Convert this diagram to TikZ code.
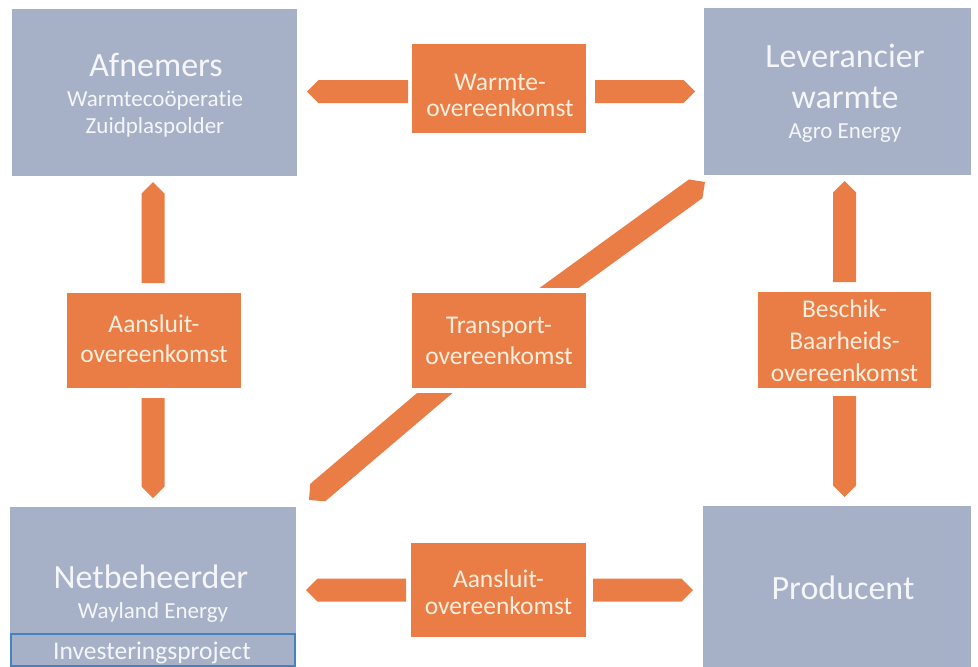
\documentclass[tikz,border=0pt]{standalone}
\usepackage{fontspec}
\setmainfont{Carlito}[Ligatures={NoCommon,NoContextual}]
\usetikzlibrary{calc,backgrounds}
\definecolor{boxgrey}{RGB}{166,176,198}
\definecolor{orng}{RGB}{233,125,69}
\definecolor{txtw}{RGB}{245,246,250}
\definecolor{txto}{RGB}{253,238,222}
\definecolor{blueb}{RGB}{70,130,190}
% single-headed band arrow from #1 to #2 (tip at #2)
\newcommand\bandarrow[2]{%
  \coordinate (bE) at ($(#2)!11.5pt!(#1)$);
  \fill[band] ($(#1)!11.5pt!90:(#2)$) -- ($(bE)!11.5pt!90:(#2)$) -- (#2)
    -- ($(bE)!11.5pt!-90:(#2)$) -- ($(#1)!11.5pt!-90:(#2)$) -- cycle;}
\begin{document}
\begin{tikzpicture}[x=1pt,y=-1pt,
  party/.style={fill=boxgrey, draw=none, inner sep=0pt, outer sep=0pt},
  deal/.style={fill=orng, draw=none, inner sep=0pt, outer sep=0pt},
  band/.style={fill=orng},
  ttl/.style={anchor=base, text=txtw, inner sep=0pt, font=\fontsize{34}{34}\selectfont},
  sub/.style={anchor=base, text=txtw, inner sep=0pt, font=\fontsize{23}{23}\selectfont},
  dtxt/.style={anchor=base, text=txto, inner sep=0pt, font=\fontsize{25.5}{25.5}\selectfont}
]
\useasboundingbox (0,0) rectangle (978,667);

% parties
\node[party, minimum width=285, minimum height=167] (afn) at (154.5,92.5) {};
\node[party, minimum width=267, minimum height=167] (lev) at (837.5,91.5) {};
\node[party, minimum width=286, minimum height=160] (net) at (153,587) {};
\node[party, minimum width=268, minimum height=161] (prod) at (837,586.5) {};
\node[party, draw=blueb, line width=2pt, minimum width=284, minimum height=32] (inv) at (153,650) {};

% agreements
\node[deal, minimum width=174, minimum height=89] (W) at (499,88.5) {};
\node[deal, minimum width=174, minimum height=95] (AL) at (154,340.5) {};
\node[deal, minimum width=174, minimum height=95] (T) at (499,340.5) {};
\node[deal, minimum width=173, minimum height=96] (B) at (844.5,340) {};
\node[deal, minimum width=175, minimum height=94] (AB) at (498.5,590) {};

% texts
\node[ttl] (afn1) at (156,76) {Afnemers};
\node[sub] (afn2) at (155,106) {Warmtecoöperatie};
\node[sub] (afn3) at (155,133) {Zuidplaspolder};
\node[ttl] (lev1) at (845,67) {Leverancier};
\node[ttl] (lev2) at (845,108) {warmte};
\node[sub] (lev3) at (845,138) {Agro Energy};
\node[ttl] (net1) at (151,588) {Netbeheerder};
\node[sub] (net2) at (153,618) {Wayland Energy};
\node[anchor=base, text=txtw, inner sep=0pt, font=\fontsize{25.5}{25.5}\selectfont] (inv1) at (152,659) {Investeringsproject};
\node[ttl] (prod1) at (843,599) {Producent};

\node[dtxt] (W1) at (500,90) {Warmte-};
\node[dtxt] (W2) at (500,116) {overeenkomst};
\node[dtxt] (AL1) at (154,332) {Aansluit-};
\node[dtxt] (AL2) at (154,362) {overeenkomst};
\node[dtxt] (T1) at (499,333) {Transport-};
\node[dtxt] (T2) at (499,364) {overeenkomst};
\node[dtxt] (B1) at (844.5,317) {Beschik-};
\node[dtxt] (B2) at (844.5,349) {Baarheids-};
\node[dtxt] (B3) at (844.5,381) {overeenkomst};
\node[dtxt] (AB1) at (498.5,587) {Aansluit-};
\node[dtxt] (AB2) at (498.5,614) {overeenkomst};

% connector end points (relative to the nodes)
\coordinate (c1s) at ($(W.west)+(-4,3)$);
\coordinate (c1e) at ($(afn.east |- c1s)+(10,0)$);
\coordinate (c2s) at ($(W.east)+(9,3)$);
\coordinate (c2e) at ($(lev.west |- c2s)+(-9,0)$);
\coordinate (c3s) at ($(AL.north)+(-1,-10)$);
\coordinate (c3e) at ($(afn.south -| c3s)+(0,6)$);
\coordinate (c4s) at ($(AL.south)+(-1,10)$);
\coordinate (c4e) at ($(net.north -| c4s)+(0,-9)$);
\coordinate (c5s) at ($(B.north)+(0,-10)$);
\coordinate (c5e) at ($(lev.south -| c5s)+(0,6)$);
\coordinate (c6s) at ($(B.south)+(0,8)$);
\coordinate (c6e) at ($(prod.north -| c6s)+(0,-9)$);
\coordinate (c7s) at ($(AB.west)+(-5,0)$);
\coordinate (c7e) at ($(net.east |- c7s)+(10,0)$);
\coordinate (c8s) at ($(AB.east)+(7,0)$);
\coordinate (c8e) at ($(prod.west |- c8s)+(-10,0)$);
\coordinate (uS) at ($(T.center)+(16,-20.5)$);
\coordinate (uE) at ($(lev.south west)+(1,7)$);
\coordinate (lS) at ($(T.center)+(-23,17.5)$);
\coordinate (lE) at ($(net.north east)+(13,-7)$);

\begin{pgfonlayer}{background}
  \fill[white] (0,0) rectangle (978,667);
  \bandarrow{c1s}{c1e}
  \bandarrow{c2s}{c2e}
  \bandarrow{c3s}{c3e}
  \bandarrow{c4s}{c4e}
  \bandarrow{c5s}{c5e}
  \bandarrow{c6s}{c6e}
  \bandarrow{c7s}{c7e}
  \bandarrow{c8s}{c8e}
  \bandarrow{uS}{uE}
  \bandarrow{lS}{lE}
  \fill[white] ($(T.north west)+(-5,-5)$) rectangle ($(T.south east)+(5,5)$);
\end{pgfonlayer}
\end{tikzpicture}
\end{document}
